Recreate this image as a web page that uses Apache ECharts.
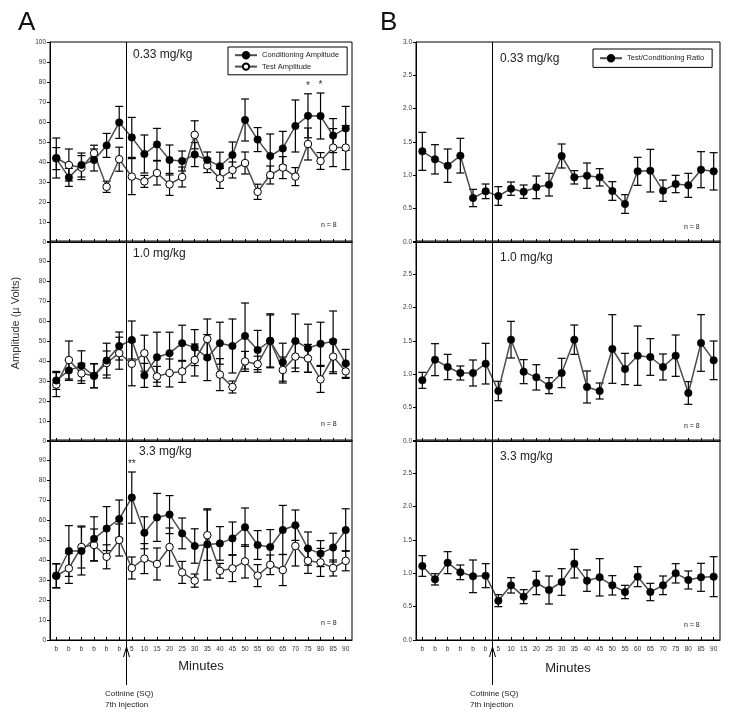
<!DOCTYPE html>
<html><head><meta charset="utf-8">
<script src="https://cdn.jsdelivr.net/npm/echarts@6/dist/echarts.min.js"></script>
<style>html,body{margin:0;padding:0;background:#fff}#c{width:729px;height:717px}</style>
</head><body><div id="c"></div>
<script>
// ---- data ----
const xLabels = ['b','b','b','b','b','b','5','10','15','20','25','30','35','40','45','50','55','60','65','70','75','80','85','90'];
const doseLabels = ['0.33 mg/kg','1.0 mg/kg','3.3 mg/kg'];
const ampTicks = [0,10,20,30,40,50,60,70,80,90,100];
const ratioTicks = [0,0.5,1,1.5,2,2.5,3];

const condLow  = [41.7,32.3,38.5,41,48.3,59.8,52.3,44,48.8,41,40.5,43.7,41,37.9,43.5,61,51.2,43,46.8,58,63.1,63,53.2,56.8];
const condLowErr = [5.5,4.5,6,5.5,6,8,10,9.5,8,7.5,5,6,4,7,6.5,10.5,6,11,8.5,13,11,11.5,8.5,11];
const testLow  = [42,38.5,37.2,44.4,27.6,41.4,32.7,30.3,34.5,28.8,32.5,53.6,38.2,31.8,36,39.5,25.1,33.5,37.2,32.7,49,40.5,47.2,47.2];
const testLowErr = [10,8,6,4,2.8,6,9,3,6,5.5,5,7,3.5,5,4,5.5,3.8,4.5,5.5,4.5,8,4.2,9.5,11];

const condMid  = [30.3,35.3,37.6,32.6,40.2,47.5,50.5,32.8,41.9,43.9,48.9,46.7,41.7,48.9,47.5,52.5,45.5,50.1,39.4,50,46.4,48.6,49.8,38.8];
const condMidErr = [4.5,5,7.5,6,8.7,7,9.5,6,12.5,10.5,9,9,11.5,10.5,13.5,16.5,9.8,13.5,9.5,13.5,12,10.8,15.2,7];
const testMid  = [28.2,40.5,33.8,32.6,39,43.9,38.6,43.9,32.3,34,34.8,40.5,51,33.2,27,39.8,38.4,50,35.5,42.2,41.3,30.8,42.2,34.8];
const testMidErr = [6,9.5,5,6,6,8,11,9,5,7,5.5,8,10,8,3,5,4,13,6.5,7.5,7,6.5,8.5,3.5];

const condHigh = [32.2,44.5,44.5,50.6,55.7,60.5,71.2,53.6,61.3,62.7,53.3,47,47.8,48.3,50.8,56.4,47.5,46.5,55,57.4,45.7,43.2,46.2,55];
const condHighErr = [6,12.7,12,11,11,9.5,12.8,8,12,9.5,7.7,8.6,17.8,8.4,8.2,9.6,7.2,8.7,12.3,7.6,8.3,6.5,7.2,10.6];
const testHigh = [32,35.8,46.5,47.5,41.6,50,36,40.7,38,46.5,33.8,29.7,52.4,34.6,35.8,39.3,32.2,37.6,35,47,39.6,38.8,36,39.6];
const testHighErr = [6,7.5,10.5,8,6,8,5.5,7.5,8,9.5,5.5,3.3,12.6,3.7,6.6,8.3,5.5,4.9,7.8,10,6.3,7,4,5];

const ratioLow  = [1.36,1.24,1.145,1.295,0.66,0.76,0.69,0.80,0.755,0.82,0.86,1.29,0.97,0.995,0.97,0.765,0.57,1.06,1.07,0.77,0.87,0.85,1.085,1.06];
const ratioLowErr = [0.285,0.22,0.25,0.26,0.13,0.11,0.14,0.10,0.10,0.17,0.17,0.18,0.10,0.19,0.13,0.14,0.14,0.21,0.32,0.16,0.13,0.18,0.27,0.28];
const ratioMid  = [0.91,1.22,1.11,1.02,1.02,1.16,0.75,1.52,1.04,0.955,0.83,1.02,1.52,0.81,0.75,1.38,1.08,1.28,1.26,1.11,1.28,0.72,1.47,1.21];
const ratioMidErr = [0.12,0.24,0.19,0.105,0.195,0.305,0.145,0.275,0.18,0.19,0.12,0.22,0.22,0.24,0.12,0.515,0.235,0.445,0.275,0.195,0.31,0.17,0.425,0.29];
const ratioHigh = [1.11,0.91,1.16,1.015,0.955,0.965,0.59,0.82,0.65,0.855,0.75,0.87,1.145,0.89,0.94,0.82,0.72,0.95,0.72,0.82,1.0,0.90,0.94,0.95];
const ratioHighErr = [0.155,0.085,0.165,0.11,0.245,0.18,0.09,0.115,0.105,0.175,0.21,0.2,0.215,0.16,0.28,0.145,0.1,0.15,0.13,0.14,0.145,0.135,0.21,0.3];

const starsLow = [20, 21];   // significance marks, 0.33 mg/kg conditioning
const starsHigh = [6];       // '**', 3.3 mg/kg conditioning

// ---- build ----
const FONT = '"Liberation Sans", Arial, sans-serif';
const tops = [42, 241, 440];
const H = 200;
const grids = [];
for (let r = 0; r < 3; r++) grids.push({left: 50, width: 302, top: tops[r], height: H, show: true, borderColor: '#000', borderWidth: 1});
for (let r = 0; r < 3; r++) grids.push({left: 416, width: 304, top: tops[r], height: H, show: true, borderColor: '#000', borderWidth: 1});

const xAxes = grids.map((g, i) => ({
  type: 'category', gridIndex: i, data: xLabels, boundaryGap: true,
  axisLine: {show: true, lineStyle: {color: '#000', width: 1}},
  axisTick: {show: true, alignWithLabel: true, inside: true, length: 3, interval: 0, lineStyle: {color: '#000'}},
  axisLabel: {show: i % 3 === 2, interval: 0, fontSize: 6.5, color: '#333', margin: 6, fontFamily: FONT},
  splitLine: {show: false}
}));
const yAxes = grids.map((g, i) => {
  const isRatio = i >= 3, row = i % 3;
  const ticks = isRatio ? ratioTicks : ampTicks;
  return {
    type: 'value', gridIndex: i, min: ticks[0], max: ticks[ticks.length - 1], interval: ticks[1] - ticks[0],
    axisLine: {show: true, lineStyle: {color: '#000', width: 1}},
    axisTick: {show: true, length: 3, lineStyle: {color: '#000'}},
    splitLine: {show: false},
    axisLabel: {fontSize: 6.5, color: '#333', margin: 4, fontFamily: FONT,
      formatter: v => (row > 0 && v === ticks[ticks.length - 1]) ? '' : (isRatio ? v.toFixed(1) : String(v))}
  };
});

function errSeries(gi, vals, errs) {
  return {
    type: 'custom', xAxisIndex: gi, yAxisIndex: gi, silent: true, z: 1,
    data: vals.map((v, i) => [i, v - errs[i], v + errs[i]]),
    encode: {x: 0, y: [1, 2]},
    renderItem: (p, api) => {
      const lo = api.coord([api.value(0), api.value(1)]);
      const hi = api.coord([api.value(0), api.value(2)]);
      const w = 4, st = {stroke: '#000', lineWidth: 1.2};
      return {type: 'group', children: [
        {type: 'line', shape: {x1: lo[0], y1: lo[1], x2: hi[0], y2: hi[1]}, style: st},
        {type: 'line', shape: {x1: lo[0] - w, y1: lo[1], x2: lo[0] + w, y2: lo[1]}, style: st},
        {type: 'line', shape: {x1: hi[0] - w, y1: hi[1], x2: hi[0] + w, y2: hi[1]}, style: st}
      ]};
    }
  };
}
function lineSeries(gi, name, vals, open) {
  return {
    type: 'line', name, xAxisIndex: gi, yAxisIndex: gi, data: vals, z: 3,
    symbol: 'circle', symbolSize: 7.5, showSymbol: true,
    lineStyle: {color: '#4d4d4d', width: 1.5},
    itemStyle: open ? {color: '#fff', borderColor: '#000', borderWidth: 1} : {color: '#000', borderColor: '#000', borderWidth: 0.5},
    emphasis: {disabled: true}
  };
}
function starSeries(gi, idxs, vals, errs, txt) {
  return {
    type: 'custom', xAxisIndex: gi, yAxisIndex: gi, silent: true, z: 4,
    data: idxs.map(i => [i, vals[i] + errs[i]]),
    renderItem: (p, api) => {
      const c = api.coord([api.value(0), api.value(1)]);
      return {type: 'text', x: c[0], y: c[1] - 3, style: {text: txt, fontSize: 10, fill: '#333', align: 'center', verticalAlign: 'bottom', fontFamily: FONT}};
    }
  };
}

const ampSets = [[condLow, condLowErr, testLow, testLowErr], [condMid, condMidErr, testMid, testMidErr], [condHigh, condHighErr, testHigh, testHighErr]];
const ratioSets = [[ratioLow, ratioLowErr], [ratioMid, ratioMidErr], [ratioHigh, ratioHighErr]];
const series = [];
ampSets.forEach((s, r) => {
  series.push(errSeries(r, s[2], s[3]));
  series.push(errSeries(r, s[0], s[1]));
  series.push(lineSeries(r, 'Test Amplitude', s[2], true));
  series.push(lineSeries(r, 'Conditioning Amplitude', s[0], false));
});
ratioSets.forEach((s, r) => {
  series.push(errSeries(3 + r, s[0], s[1]));
  series.push(lineSeries(3 + r, 'Test/Conditioning Ratio', s[0], false));
});
series.push(starSeries(0, starsLow, condLow, condLowErr, '*'));
series.push(starSeries(2, starsHigh, condHigh, condHighErr, '**'));

const legendBase = {orient: 'vertical', borderColor: '#000', borderWidth: 1, itemGap: 3, itemWidth: 22, itemHeight: 8,
  textStyle: {fontSize: 7.5, color: '#222', fontFamily: FONT}, selectedMode: false, backgroundColor: '#fff'};

const texts = [];
function addText(x, y, t, size, opts) {
  texts.push({type: 'text', x, y, style: Object.assign({text: t, fontSize: size, fill: '#222', fontFamily: FONT}, opts || {})});
}
addText(18, 10, 'A', 26, {fill: '#111'});
addText(380, 10, 'B', 26, {fill: '#111'});
const labelDy = [7, 7, 6];
doseLabels.forEach((t, r) => {
  addText(r === 2 ? 139 : 133, tops[r] + labelDy[r], t, 12);
  addText(500, tops[r] + 11, t, 12);
  addText(321, tops[r] + H - 20, 'n = 8', 7);
  addText(684, tops[r] + H - 18, 'n = 8', 7);
});
addText(201, 666, 'Minutes', 13, {align: 'center', verticalAlign: 'middle'});
addText(568, 668, 'Minutes', 13, {align: 'center', verticalAlign: 'middle'});
addText(105, 688, 'Cotinine (SQ)\n7th Injection', 8, {lineHeight: 11});
addText(470, 688, 'Cotinine (SQ)\n7th Injection', 8, {lineHeight: 11});
texts.push({type: 'text', x: 16, y: 323, rotation: Math.PI / 2, style: {text: 'Amplitude (\u00b5 Volts)', fontSize: 11, fill: '#333', fontFamily: FONT, align: 'center', verticalAlign: 'middle'}});

const chart = echarts.init(document.getElementById('c'), null, {renderer: 'canvas'});
chart.setOption({
  animation: false,
  backgroundColor: '#fff',
  grid: grids, xAxis: xAxes, yAxis: yAxes, series,
  legend: [
    Object.assign({}, legendBase, {left: 228, top: 47, padding: [4, 8, 4, 6], data: ['Conditioning Amplitude', 'Test Amplitude']}),
    Object.assign({}, legendBase, {left: 593, top: 49, padding: [5, 8, 5, 6], data: ['Test/Conditioning Ratio']})
  ],
  graphic: texts
});

// injection marker: vertical line between the last baseline and the 5-min point
const extra = [];
[0, 3].forEach(gi => {
  const a = chart.convertToPixel({gridIndex: gi}, [5, 0]);
  const b = chart.convertToPixel({gridIndex: gi}, [6, 0]);
  const topY = chart.convertToPixel({gridIndex: gi}, [5, gi === 0 ? 100 : 3])[1];
  const x = Math.round((a[0] + b[0]) / 2) + 0.5;
  extra.push({type: 'line', shape: {x1: x, y1: topY, x2: x, y2: 685}, style: {stroke: '#000', lineWidth: 1}, z: 10});
  extra.push({type: 'polyline', shape: {points: [[x - 3, 657], [x, 647], [x + 3, 657]]}, style: {stroke: '#000', lineWidth: 1, fill: null}, z: 10});
});
chart.setOption({graphic: texts.concat(extra)});
</script></body></html>
